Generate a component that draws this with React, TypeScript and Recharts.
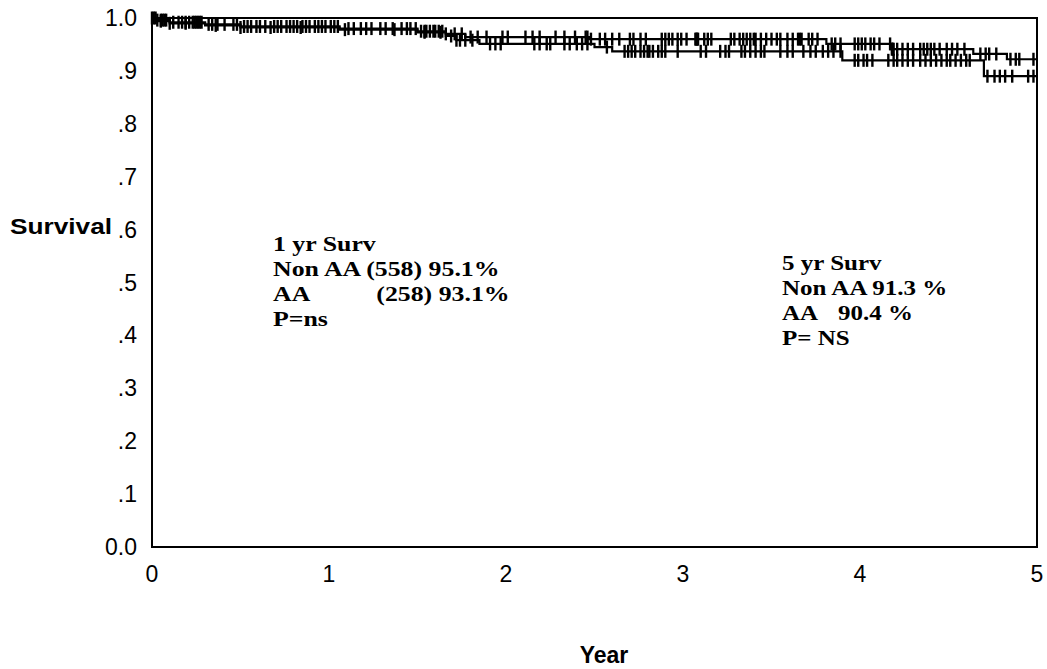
import React from 'react';
import { ComposedChart, Line, Scatter, XAxis, YAxis, ReferenceArea } from 'recharts';

// ---- axis ticks ----
const yearTicks = [0, 1, 2, 3, 4, 5];
const survivalTicks = [0, 0.1, 0.2, 0.3, 0.4, 0.5, 0.6, 0.7, 0.8, 0.9, 1.0];
const survivalTickLabels = ['0.0', '.1', '.2', '.3', '.4', '.5', '.6', '.7', '.8', '.9', '1.0'];

// ---- Kaplan-Meier step curves (time in years, survival proportion) ----
const nonAATimes = [0, 0.03, 0.10, 0.30, 0.50, 1.06, 1.50, 1.66, 1.77, 2.47, 3.81, 4.18, 4.64, 4.83, 5.0];
const nonAASurvival = [1.0, 0.996, 0.992, 0.988, 0.984, 0.980, 0.975, 0.970, 0.964, 0.960, 0.951, 0.941, 0.932, 0.922, 0.922];

const aaTimes = [0, 0.02, 0.10, 0.30, 0.50, 1.06, 1.50, 1.66, 1.72, 1.85, 2.50, 2.60, 3.90, 4.70, 5.0];
const aaSurvival = [1.0, 0.994, 0.990, 0.986, 0.982, 0.978, 0.973, 0.966, 0.958, 0.951, 0.945, 0.937, 0.920, 0.890, 0.890];

// ---- censoring times (years) ----
const nonAACensored = [
  0.0, 0.01, 0.02, 0.03, 0.05, 0.06, 0.07, 0.08, 0.12, 0.15, 0.17, 0.19, 0.21, 0.23, 0.24, 0.25, 0.26, 0.27, 0.28,
  0.32, 0.34, 0.37, 0.41, 0.46, 0.48, 0.52, 0.54, 0.56, 0.59, 0.61, 0.64, 0.69, 0.71, 0.73, 0.76, 0.78, 0.80, 0.82,
  0.85, 0.87, 0.89, 0.92, 0.94, 0.96, 0.98, 1.01, 1.03, 1.05, 1.11, 1.14, 1.18, 1.21, 1.24, 1.29, 1.32, 1.36, 1.41,
  1.44, 1.46, 1.49, 1.52, 1.54, 1.55, 1.57, 1.59, 1.60, 1.62, 1.64, 1.66, 1.71, 1.75, 1.80, 1.84, 1.89, 1.98, 2.01,
  2.11, 2.15, 2.19, 2.28, 2.33, 2.39, 2.45, 2.46, 2.48, 2.53, 2.56, 2.60, 2.64, 2.70, 2.72, 2.76, 2.79, 2.88, 2.90,
  2.92, 2.94, 2.97, 2.99, 3.02, 3.07, 3.075, 3.08, 3.085, 3.12, 3.14, 3.16, 3.27, 3.29, 3.32, 3.34, 3.36, 3.38, 3.40,
  3.41, 3.44, 3.47, 3.50, 3.53, 3.55, 3.59, 3.62, 3.65, 3.66, 3.67, 3.71, 3.73, 3.76, 3.84, 3.86, 3.89, 3.97, 3.99,
  4.01, 4.03, 4.06, 4.08, 4.11, 4.17, 4.18, 4.185, 4.19, 4.21, 4.24, 4.27, 4.30, 4.34, 4.36, 4.38, 4.40, 4.42, 4.45,
  4.49, 4.52, 4.55, 4.59, 4.68, 4.71, 4.73, 4.77, 4.85, 4.88, 4.90, 4.98,
];
const aaCensored = [
  0.05, 0.10, 0.19, 0.36, 0.50, 0.67, 0.84, 1.09, 1.37, 1.54, 1.63, 1.69, 1.72, 1.74, 1.77, 1.81, 1.91, 1.94, 1.97,
  2.16, 2.19, 2.23, 2.25, 2.33, 2.36, 2.40, 2.43, 2.46, 2.57, 2.67, 2.69, 2.71, 2.73, 2.76, 2.78, 2.80, 2.81, 2.83,
  2.86, 2.88, 2.90, 2.97, 3.10, 3.13, 3.21, 3.24, 3.26, 3.33, 3.35, 3.38, 3.41, 3.44, 3.46, 3.55, 3.59, 3.62, 3.68,
  3.72, 3.75, 3.79, 3.82, 3.85, 3.89, 3.97, 3.99, 4.02, 4.04, 4.07, 4.16, 4.19, 4.21, 4.24, 4.27, 4.30, 4.34, 4.37,
  4.40, 4.43, 4.46, 4.49, 4.51, 4.54, 4.57, 4.60, 4.62, 4.72, 4.76, 4.79, 4.82, 4.86, 4.95, 4.98,
];

// ---- build library data ----
const toCurve = (times: number[], surv: number[]) => times.map((t, i) => ({ t, s: surv[i] }));
const survivalAt = (times: number[], surv: number[], t: number) => {
  let v = surv[0];
  for (let i = 0; i < times.length; i++) {
    if (times[i] <= t) v = surv[i];
  }
  return v;
};
const toCensor = (cens: number[], times: number[], surv: number[]) =>
  cens.map((t) => ({ t, s: survivalAt(times, surv, t) }));

const nonAACurve = toCurve(nonAATimes, nonAASurvival);
const aaCurve = toCurve(aaTimes, aaSurvival);
const nonAACensorPts = toCensor(nonAACensored, nonAATimes, nonAASurvival);
const aaCensorPts = toCensor(aaCensored, aaTimes, aaSurvival);

const CensorMark = (props: any) => {
  const { cx, cy } = props;
  if (cx == null || cy == null) return null;
  return <line x1={cx} x2={cx} y1={cy - 6.5} y2={cy + 6.5} stroke="#000" strokeWidth={2.4} />;
};

const sans = "'Liberation Sans', Arial, sans-serif";
const serif = "'Liberation Serif', 'Times New Roman', serif";

const XTick = (props: any) => {
  const { x, y, payload } = props;
  return (
    <text x={x} y={y + 35} textAnchor="middle" fontFamily={sans} fontSize={23} fill="#000">
      {payload.value}
    </text>
  );
};
const YTick = (props: any) => {
  const { x, y, payload } = props;
  return (
    <text x={x} y={y + 8} textAnchor="end" fontFamily={sans} fontSize={23} fill="#000">
      {survivalTickLabels[Math.round(payload.value * 10)]}
    </text>
  );
};

const W = 1047;
const H = 669;

export default function App() {
  return (
    <div style={{ position: 'relative', width: W, height: H }}>
      <style>{`body{margin:0}.recharts-surface{overflow:visible}`}</style>
      <ComposedChart
        width={W}
        height={H}
        margin={{ top: 18, right: 10, left: 0, bottom: 0 }}
      >
        <XAxis
          dataKey="t"
          type="number"
          domain={[0, 5]}
          ticks={yearTicks}
          interval={0}
          axisLine={false}
          tickLine={false}
          tickSize={0}
          tickMargin={0}
          height={122}
          tick={<XTick />}
          allowDuplicatedCategory={false}
        />
        <YAxis
          type="number"
          domain={[0, 1]}
          ticks={survivalTicks}
          interval={0}
          width={152}
          axisLine={false}
          tickLine={false}
          tickSize={13}
          tickMargin={2}
          tick={<YTick />}
        />
        <ReferenceArea x1={0} x2={5} y1={0} y2={1} fill="none" fillOpacity={0} stroke="#000" strokeWidth={2} />
        <Line data={nonAACurve} dataKey="s" type="stepAfter" stroke="#000" strokeWidth={2.2} dot={false} isAnimationActive={false} />
        <Line data={aaCurve} dataKey="s" type="stepAfter" stroke="#000" strokeWidth={2.2} dot={false} isAnimationActive={false} />
        <Scatter data={nonAACensorPts} dataKey="s" shape={CensorMark} isAnimationActive={false} />
        <Scatter data={aaCensorPts} dataKey="s" shape={CensorMark} isAnimationActive={false} />
      </ComposedChart>
      <svg
        width={W}
        height={H}
        style={{ position: 'absolute', left: 0, top: 0, pointerEvents: 'none' }}
      >
        <text x={10} y={234} fontFamily={sans} fontWeight="bold" fontSize={22}
          textLength={102} lengthAdjust="spacingAndGlyphs" fill="#000">Survival</text>
        <text x={604} y={663} textAnchor="middle" fontFamily={sans} fontWeight="bold"
          fontSize={23} fill="#000">Year</text>

        <g transform="translate(273,0) scale(1.26,1)" fontFamily={serif} fontWeight="bold" fontSize={20.5} fill="#000">
          <text x={0} y={251}>1 yr Surv</text>
          <text x={0} y={276}>Non AA (558) 95.1%</text>
          <text x={0} y={301}>AA</text>
          <text x={82} y={301}>(258) 93.1%</text>
          <text x={0} y={326}>P=ns</text>
        </g>
        <g transform="translate(782,0) scale(1.22,1)" fontFamily={serif} fontWeight="bold" fontSize={20.5} fill="#000">
          <text x={0} y={270}>5 yr Surv</text>
          <text x={0} y={295}>Non AA 91.3 %</text>
          <text x={0} y={320}>AA</text>
          <text x={46} y={320}>90.4 %</text>
          <text x={0} y={345}>P= NS</text>
        </g>
      </svg>
    </div>
  );
}
